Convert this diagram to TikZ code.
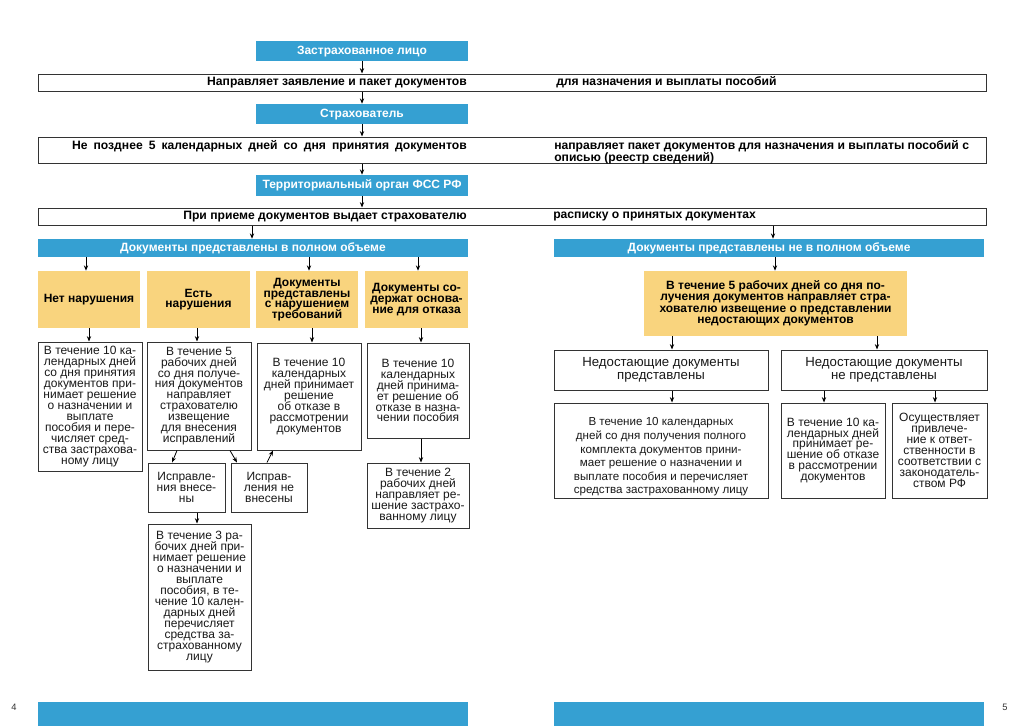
\documentclass[tikz,border=0pt]{standalone}
\usepackage{fontspec}
\setmainfont{Liberation Sans}
\usetikzlibrary{arrows.meta}
\definecolor{fssblue}{HTML}{35A0D2}
\definecolor{fssyel}{HTML}{F9D47E}
\newcommand\bx[8][]{\node[#2,minimum width={(#5-#3)*0.75pt},minimum height={(#6-#4)*0.75pt},#1] (#7) at ({(#3+#5)/2},{(#4+#6)/2}) {#8};}
\newcommand\fsz[2]{\fontsize{#1}{#2}\selectfont\lineskiplimit=-6pt\relax}
\tikzset{
  bluebox/.style={fill=fssblue,text=white,font=\bfseries\fsz{9}{10},inner sep=0pt,text height=6.6pt,text depth=1.6pt},
  yelbox/.style={fill=fssyel,font=\bfseries\fsz{9}{8},align=center,inner sep=0pt},
  wbox/.style={draw=black!80,line width=0.75pt,fill=white,font=\fsz{9}{8.2},align=center,inner sep=0pt,text=black!90},
  widebox/.style={draw=black!80,line width=0.75pt,inner sep=0pt},
  widetext/.style={font=\bfseries\fsz{9.1}{9},inner sep=0pt,align=left},
  arr/.style={-{Stealth[length=4pt,width=3.2pt]},line width=0.6pt,black},
  pagenum/.style={font=\fsz{7}{8},text=black!80,inner sep=0pt}
}
\begin{document}
\begin{tikzpicture}[x=0.75pt,y=-0.75pt]
\useasboundingbox (0,0) rectangle (1024,726);
% top chain
\bx{bluebox}{256}{41}{468}{61}{zl}{Застрахованное лицо}
\bx{widebox}{38}{74}{986}{91}{r1}{}
\node[widetext,anchor=east] (r1l) at (467,82.5) {Направляет заявление и пакет документов};
\node[widetext,anchor=west] (r1r) at (556,82.5) {для назначения и выплаты пособий};
\bx{bluebox}{256}{104}{468}{124}{st}{Страхователь}
\bx{widebox}{38}{137}{986}{163}{r2}{}
\node[widetext,anchor=north east] (r2l) at (467,140) {\makebox[296pt][s]{Не позднее 5 календарных дней со дня принятия документов}};
\node[widetext,anchor=north west] (r2r) at (554,140) {направляет пакет документов для назначения и выплаты пособий с\\описью (реестр сведений)};
\bx{bluebox}{256}{175}{468}{196}{fss}{Территориальный орган ФСС РФ}
\bx{widebox}{38}{208}{986}{225}{r3}{}
\node[widetext,anchor=east] (r3l) at (467,216.5) {При приеме документов выдает страхователю};
\node[widetext,anchor=west] (r3r) at (553,216.5) {расписку о принятых документах};
\draw[arr] (zl.south -| 362,0) -- (r1.north -| 362,0);
\draw[arr] (r1.south -| 362,0) -- (st.north -| 362,0);
\draw[arr] (st.south -| 362,0) -- (r2.north -| 362,0);
\draw[arr] (r2.south -| 362,0) -- (fss.north -| 362,0);
\draw[arr] (fss.south -| 362,0) -- (r3.north -| 362,0);
% split
\bx{bluebox}{38}{239}{468}{257}{full}{Документы представлены в полном объеме}
\bx{bluebox}{554}{239}{984}{257}{part}{Документы представлены не в полном объеме}
\draw[arr] (r3.south -| 252,0) -- (full.north -| 252,0);
\draw[arr] (r3.south -| 773,0) -- (part.north -| 773,0);
% left yellow
\bx{yelbox}{38}{271}{140}{328}{y1}{Нет нарушения}
\bx{yelbox}{147}{271}{250}{328}{y2}{Есть\\нарушения}
\bx{yelbox}{256}{271}{358}{328}{y3}{Документы\\представлены\\с нарушением\\требований}
\bx{yelbox}{365}{271}{468}{328}{y4}{Документы со-\\держат основа-\\ние для отказа}
\draw[arr] (full.south -| 86,0) -- (y1.north -| 86,0);
\draw[arr] (full.south -| 309,0) -- (y3.north -| 309,0);
\draw[arr] (full.south -| 418,0) -- (y4.north -| 418,0);
% left white row
\bx{wbox}{38}{342}{142}{471}{a}{В течение 10 ка-\\лендарных дней\\со дня принятия\\документов при-\\нимает решение\\о назначении и\\выплате\\пособия и пере-\\числяет сред-\\ства застрахова-\\ному лицу}
\bx{wbox}{147}{342}{251}{450}{b}{В течение 5\\рабочих дней\\со дня получе-\\ния документов\\направляет\\страхователю\\извещение\\для внесения\\исправлений}
\bx{wbox}{257}{343}{361}{450}{c}{В течение 10\\календарных\\дней принимает\\решение\\об отказе в\\рассмотрении\\документов}
\bx{wbox}{367}{343}{469}{438}{d}{В течение 10\\календарных\\дней принима-\\ет решение об\\отказе в назна-\\чении пособия}
\bx{wbox}{367}{463}{469}{528}{e}{В течение 2\\рабочих дней\\направляет ре-\\шение застрахо-\\ванному лицу}
\draw[arr] (y1.south -| 89,0) -- (a.north -| 89,0);
\draw[arr] (y2.south -| 197,0) -- (b.north -| 197,0);
\draw[arr] (y3.south -| 312,0) -- (c.north -| 312,0);
\draw[arr] (y4.south -| 421,0) -- (d.north -| 421,0);
\draw[arr] (d.south -| 421,0) -- (e.north -| 421,0);
% corrections
\bx{wbox}{148}{463}{225}{512}{f}{Исправле-\\ния внесе-\\ны}
\bx{wbox}{231}{463}{307}{512}{g}{Исправ-\\ления не\\внесены}
\bx{wbox}{148}{524}{251}{670}{h}{В течение 3 ра-\\бочих дней при-\\нимает решение\\о назначении и\\выплате\\пособия, в те-\\чение 10 кален-\\дарных дней\\перечисляет\\средства за-\\страхованному\\лицу}
\draw[arr] (b.south -| 177,0) -- (f.north -| 172,0);
\draw[arr] (b.south -| 230,0) -- (g.north -| 237,0);
\draw[arr] (g.north -| 267,0) -- (c.south -| 273,0);
\draw[arr] (f.south -| 197,0) -- (h.north -| 197,0);
% right side
\bx[font=\bfseries\fsz{9}{8.6}]{yelbox}{644}{271}{907}{336}{ry}{В течение 5 рабочих дней со дня по-\\лучения документов направляет стра-\\хователю извещение о представлении\\недостающих документов}
\draw[arr] (part.south -| 775,0) -- (ry.north -| 775,0);
\bx[font=\fsz{9.9}{9.3}]{wbox}{554}{350}{768}{390}{rp}{Недостающие документы\\представлены}
\bx[font=\fsz{9.9}{9.3}]{wbox}{781}{350}{987}{390}{rn}{Недостающие документы\\не представлены}
\draw[arr] (ry.south -| 672,0) -- (rp.north -| 672,0);
\draw[arr] (ry.south -| 877,0) -- (rn.north -| 877,0);
\bx[font=\fsz{8.7}{10.2}]{wbox}{554}{403}{768}{498}{rp1}{\rule{0pt}{16pt}В течение 10 календарных\\дней со дня получения полного\\комплекта документов прини-\\мает решение о назначении и\\выплате пособия и перечисляет\\средства застрахованному лицу}
\bx{wbox}{781}{403}{885}{498}{rn1}{В течение 10 ка-\\лендарных дней\\принимает ре-\\шение об отказе\\в рассмотрении\\документов}
\bx{wbox}{892}{403}{987}{498}{rn2}{Осуществляет\\привлече-\\ние к ответ-\\ственности в\\соответствии с\\законодатель-\\ством РФ}
\draw[arr] (rp.south -| 672,0) -- (rp1.north -| 672,0);
\draw[arr] (rn.south -| 824,0) -- (rn1.north -| 824,0);
\draw[arr] (rn.south -| 935,0) -- (rn2.north -| 935,0);
% footer
\fill[fssblue] (38,702) rectangle (468,726);
\fill[fssblue] (554,702) rectangle (984,726);
\node[pagenum] (p4) at (14,707) {4};
\node[pagenum] (p5) at (1005,707) {5};
\end{tikzpicture}
\end{document}
